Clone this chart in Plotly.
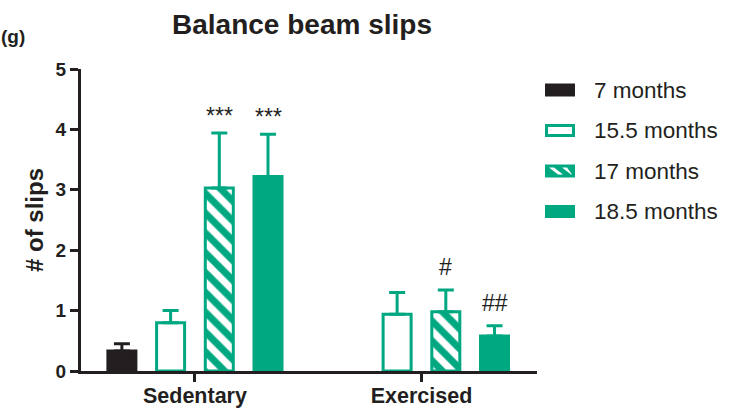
import plotly.graph_objects as go

# ---------------- data ----------------
groups = ["Sedentary", "Exercised"]
series_names = ["7 months", "15.5 months", "17 months", "18.5 months"]
mean_7 = [0.33, None]
mean_155 = [0.80, 0.94]
mean_17 = [3.03, 0.98]
mean_185 = [3.22, 0.58]
sem_7 = [0.12, None]
sem_155 = [0.20, 0.36]
sem_17 = [0.91, 0.36]
sem_185 = [0.70, 0.17]
sig_17 = ["***", "#"]
sig_185 = ["***", "##"]
y_ticks = [0, 1, 2, 3, 4, 5]

# ---------------- style ----------------
TEAL = "#00A881"
DARK = "#231F20"
FONT = "Liberation Sans, Arial, Helvetica, sans-serif"

W, H = 745, 409
ML, MR, MT, MB = 81, 208, 69, 38
PW = W - ML - MR
PH = H - MT - MB


def px2x(px):
    return (px - ML) / PW


def py2y(py):
    return (H - MB - py) / PH


fig = go.Figure()

styles = [
    dict(color=DARK, line=dict(color=DARK, width=3)),
    dict(color="white", line=dict(color=TEAL, width=3)),
    dict(color="white", line=dict(color=TEAL, width=3),
         pattern=dict(shape="\\", fgcolor=TEAL, fgopacity=1, bgcolor="white",
                      size=14, solidity=0.5, fillmode="overlay")),
    dict(color=TEAL, line=dict(color=TEAL, width=3)),
]
err_colors = [DARK, TEAL, TEAL, TEAL]
means = [mean_7, mean_155, mean_17, mean_185]
sems = [sem_7, sem_155, sem_17, sem_185]

for name, m, s, st, ec in zip(series_names, means, sems, styles, err_colors):
    fig.add_trace(go.Bar(
        x=groups, y=m, name=name, marker=st,
        error_y=dict(type="data", array=s, arrayminus=[0 if v is not None else None for v in s],
                     symmetric=False, color=ec, thickness=3, width=8, visible=True),
        showlegend=False, hoverinfo="skip",
    ))

# significance labels (placed above error bar tops)
slot = 0.2153
offs = {2: 0.5 * slot, 3: 1.5 * slot}
for idx, labels in ((2, sig_17), (3, sig_185)):
    for gi, lab in enumerate(labels):
        top = means[idx][gi] + sems[idx][gi]
        is_star = "*" in lab
        fig.add_annotation(
            x=gi + offs[idx], y=top, xref="x", yref="y", text=lab, showarrow=False,
            yanchor="middle", yshift=17 if is_star else 23,
            font=dict(family=FONT, size=23, color=DARK),
        )

# ---------------- manual legend ----------------
row_y = [90, 130.5, 171, 211.5]
sx0, sx1 = 545, 575
for i, (name, cy) in enumerate(zip(series_names, row_y)):
    y0, y1 = cy - 6.5, cy + 6.5
    if i == 0:
        fig.add_shape(type="rect", xref="paper", yref="paper",
                      x0=px2x(sx0), x1=px2x(sx1), y0=py2y(y1), y1=py2y(y0),
                      fillcolor=DARK, line=dict(width=0))
    elif i == 1:
        fig.add_shape(type="rect", xref="paper", yref="paper",
                      x0=px2x(sx0 + 1.5), x1=px2x(sx1 - 1.5), y0=py2y(y1 - 1.5), y1=py2y(y0 + 1.5),
                      fillcolor="white", line=dict(color=TEAL, width=3))
    elif i == 2:
        fig.add_shape(type="rect", xref="paper", yref="paper",
                      x0=px2x(sx0), x1=px2x(sx1), y0=py2y(y1), y1=py2y(y0),
                      fillcolor=TEAL, line=dict(width=0))
        ty, by = y0 + 3, y1 - 3
        for a in (549, 562):
            pts = [(a, ty), (a + 5, ty), (min(a + 14, 572), by), (min(a + 9, 572), by)]
            path = "M " + " L ".join(f"{px2x(px):.5f},{py2y(py):.5f}" for px, py in pts) + " Z"
            fig.add_shape(type="path", xref="paper", yref="paper", path=path,
                          fillcolor="white", line=dict(width=0))
    else:
        fig.add_shape(type="rect", xref="paper", yref="paper",
                      x0=px2x(sx0), x1=px2x(sx1), y0=py2y(y1), y1=py2y(y0),
                      fillcolor=TEAL, line=dict(width=0))
    fig.add_annotation(x=px2x(592), y=py2y(cy), xref="paper", yref="paper",
                       text=name, showarrow=False, xanchor="left", yanchor="middle",
                       font=dict(family=FONT, size=22.5, color=DARK))

# panel label
fig.add_annotation(x=px2x(-1), y=py2y(37), xref="paper", yref="paper", text="(g)",
                   showarrow=False, xanchor="left", yanchor="middle",
                   font=dict(family=FONT, size=19, color=DARK, weight="bold"))

fig.update_layout(
    width=W, height=H,
    margin=dict(l=ML, r=MR, t=MT, b=MB, pad=0, autoexpand=False),
    paper_bgcolor="white", plot_bgcolor="white",
    barmode="group", bargap=0.14, bargroupgap=0.425,
    title=dict(text="Balance beam slips", x=302 / W, xanchor="center",
               y=1 - 24 / H, yanchor="middle", xref="container", yref="container",
               font=dict(family=FONT, size=28, color=DARK, weight="bold")),
    showlegend=False,
    font=dict(family=FONT, color=DARK),
)
fig.update_xaxes(
    range=[-0.503, 1.51], showline=True, linecolor=DARK, linewidth=3,
    ticks="outside", ticklen=8, tickwidth=3, tickcolor=DARK, automargin=False,
    ticklabelstandoff=-5,
    tickfont=dict(family=FONT, size=21.5, color=DARK, weight="bold"),
    showgrid=False, zeroline=False,
)
fig.update_yaxes(
    range=[0, 5], tickvals=y_ticks, showline=True, linecolor=DARK, linewidth=3,
    ticks="outside", ticklen=8, tickwidth=3, tickcolor=DARK, automargin=False,
    tickfont=dict(family=FONT, size=19, color=DARK, weight="bold"),
    title=dict(text="# of slips", standoff=6,
               font=dict(family=FONT, size=24, color=DARK, weight="bold")),
    showgrid=False, zeroline=False,
)

fig.write_html(
    "out.html",
    config={"displayModeBar": False},
    post_script="document.body.style.margin='0px';document.body.style.padding='0px';",
)
